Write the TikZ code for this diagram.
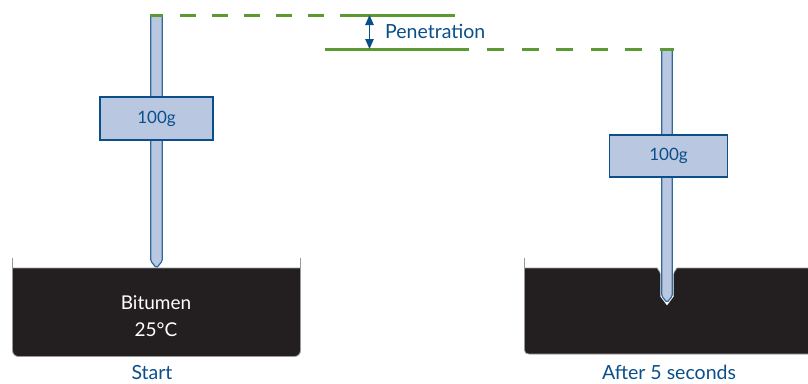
\documentclass[tikz,border=0pt]{standalone}
\usepackage{fontspec}
\setmainfont{Lato}
\usetikzlibrary{arrows.meta}
\definecolor{inkblue}{HTML}{0B4F8A}
\definecolor{steelfill}{HTML}{BAC7E0}
\definecolor{bitumen}{HTML}{231F20}
\definecolor{levelgreen}{HTML}{5B9A32}
\tikzset{
    weightbox/.style={draw=inkblue,fill=steelfill,line width=1.2pt,inner sep=0pt,text=inkblue,font=\fontsize{17}{20}\selectfont},
    needle/.style={draw=inkblue!85,fill=steelfill,line width=1.2pt,rounded corners=1.5pt},
    tar/.style={fill=bitumen,draw=gray!80,line width=0.8pt},
    rim/.style={draw=gray!80,line width=0.9pt},
    level/.style={draw=levelgreen,line width=3pt},
    caption/.style={text=inkblue,inner sep=0pt,font=\fontsize{19.5}{20}\selectfont},
    tarlabel/.style={text=white,font=\fontsize{19}{20}\selectfont}
}
\begin{document}
\begin{tikzpicture}[x=1pt,y=-1pt]
    \useasboundingbox (0,0) rectangle (808,383);

    % left tin
    \draw[tar] (12.5,268) -- (12.5,350) .. controls (12.5,354) and (15,356.5) .. (19,356.5) -- (294,356.5)
        .. controls (298,356.5) and (300.5,354) .. (300.5,350) -- (300.5,268) -- cycle;
    \draw[rim] (12.5,258) -- (12.5,268);
    \draw[rim] (300.5,258) -- (300.5,268);
    \node[tarlabel] (bitumenlabel) at (156,303) {Bitumen};
    \node[tarlabel] (templabel) at (156,330) {25\textdegree C};
    \node[caption] (startlabel) at (152,372.5) {Start};

    % right tin, runs off the page
    \draw[tar] (524.5,268) -- (524.5,350) .. controls (524.5,352.5) and (526,354) .. (529,354) -- (812,354) -- (812,268) -- (677,268)
        -- (673,274) -- (661,274) -- (657,268) -- cycle;
    \draw[rim] (524.5,258) -- (524.5,268);
    \node[caption] (afterlabel) at (669,372) {After 5 seconds};

    % needles
    \draw[needle] (150.7,15) -- (150.7,261) -- (156.5,268) -- (162.3,261) -- (162.3,15) -- cycle;
    \draw[white,line width=2.8pt] (661.7,272) -- (661.7,296) -- (667,303) -- (672.3,296) -- (672.3,272);
    \draw[needle] (661.7,49) -- (661.7,296) -- (667,302.5) -- (672.3,296) -- (672.3,49) -- cycle;

    % weights
    \node[weightbox,minimum width=113pt,minimum height=43pt] (weightA) at (156.5,118.5) {100g};
    \node[weightbox,minimum width=117.5pt,minimum height=42pt] (weightB) at (668.5,156) {100g};

    % levels
    \coordinate (topA) at (150,15);
    \coordinate (topB) at (163,15);
    \coordinate (dashA) at (180,15);
    \coordinate (solidA) at (340,15);
    \coordinate (endA) at (455,15);
    \coordinate (startB) at (325,49);
    \coordinate (solidB) at (469,49);
    \coordinate (dashB) at (487,49);
    \coordinate (endB) at (674,49);
    \coordinate (arrowA) at (369.5,15);
    \coordinate (arrowB) at (369.5,49);
    \draw[level] (topA) -- (topB);
    \draw[level,dash pattern=on 16pt off 16pt] (dashA) -- (solidA);
    \draw[level] (solidA) -- (endA);
    \draw[level] (startB) -- (solidB);
    \draw[level,dash pattern=on 17pt off 17.6pt] (dashB) -- (endB);

    \draw[inkblue,line width=1pt,{Triangle[width=8.5pt,length=10pt]}-{Triangle[width=8.5pt,length=10pt]}] (arrowA) -- (arrowB);
    \node[caption,anchor=west,font=\fontsize{19.5}{20}\selectfont] (penlabel) at (385,31) {Penetration};
\end{tikzpicture}
\end{document}
